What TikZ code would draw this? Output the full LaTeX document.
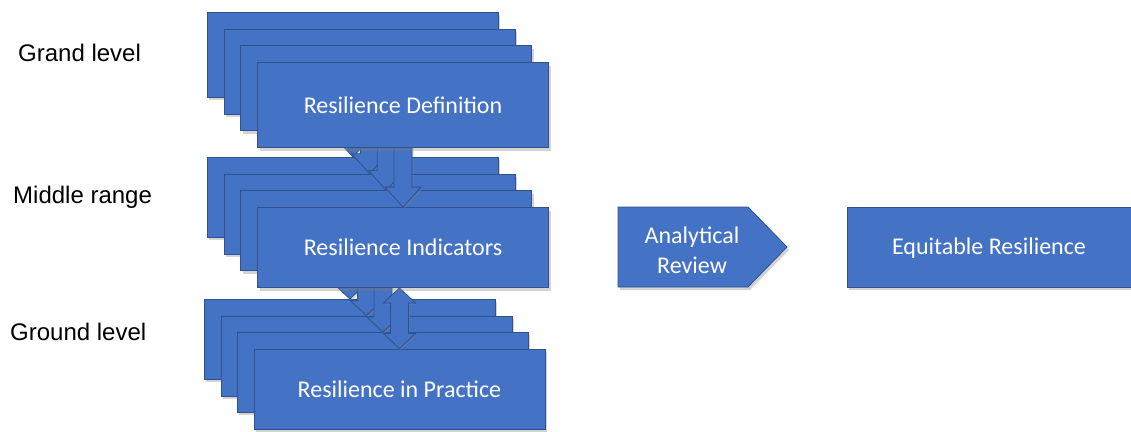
\documentclass[tikz,border=0pt]{standalone}
\usepackage{fontspec}
\setmainfont{Carlito}
\newfontfamily\arialfont{Liberation Sans}
\usetikzlibrary{shadows,calc}
\definecolor{boxblue}{HTML}{4472C4}
\definecolor{boxedge}{HTML}{2F528F}
\pgfdeclarelayer{bstack}
\pgfdeclarelayer{darrows}
\pgfdeclarelayer{mstack}
\pgfdeclarelayer{arrows}
\pgfdeclarelayer{gstack}
\pgfsetlayers{bstack,darrows,mstack,arrows,gstack,main}
\tikzset{
  bluefill/.style={draw=boxedge, line width=0.8pt, fill=boxblue,
    drop shadow={opacity=0.35, shadow xshift=2pt, shadow yshift=-3pt}},
  card/.style={bluefill, minimum width=291pt, minimum height=80pt,
    inner sep=0pt, anchor=north west},
  cardtext/.style={text=white, font=\fontsize{24}{30}\selectfont, align=center},
  levellabel/.style={font=\arialfont\fontsize{24}{29}\selectfont,
    anchor=base west, inner sep=0pt},
  blockarrow/.style={draw=boxedge, line width=0.8pt, fill=boxblue,
    drop shadow={opacity=0.3, shadow xshift=1.5pt, shadow yshift=-2pt}}
}
\begin{document}
\begin{tikzpicture}[x=1pt,y=-1pt]
\useasboundingbox (0,0) rectangle (1131,431);

% level labels
\node[levellabel] (lgrand) at (18,61) {Grand level};
\node[levellabel] (lmiddle) at (13,203) {Middle range};
\node[levellabel] (lground) at (10,340) {Ground level};

% stacks
\foreach \i in {1,...,4} {
  \pgfmathsetmacro\off{16.7*(\i-1)}
  \pgfmathsetmacro\offb{16.5*(\i-1)}
  \begin{pgfonlayer}{gstack}
    \node[card, minimum height=85pt] (g\i) at (207+\off,12+\off) {};
  \end{pgfonlayer}
  \begin{pgfonlayer}{mstack}
    \node[card] (m\i) at (207+\off,157+\off) {};
  \end{pgfonlayer}
  \begin{pgfonlayer}{bstack}
    \node[card] (b\i) at (204+\offb,299+\offb) {};
  \end{pgfonlayer}
}
\begin{pgfonlayer}{gstack}
  \node[cardtext] (tdef) at (g4.center) {Resilience Definition};
\end{pgfonlayer}
\begin{pgfonlayer}{mstack}
  \node[cardtext] (tind) at (m4.center) {Resilience Indicators};
\end{pgfonlayer}
\begin{pgfonlayer}{bstack}
  \node[cardtext] (tpra) at (b4.center) {Resilience in Practice};
\end{pgfonlayer}

% down arrows: grand level -> middle range
\begin{pgfonlayer}{arrows}
\foreach \i in {1,...,4} {
  \draw[blockarrow] let \p1=(g\i.south), \p2=(m\i.north) in
    (\x2,\y2) -- (\x2+18pt,\y2+20pt) -- (\x2+9pt,\y2+20pt) --
    (\x2+9pt,\y1+10pt) -- (\x2-9pt,\y1+10pt) -- (\x2-9pt,\y2+20pt) --
    (\x2-18pt,\y2+20pt) -- cycle;
}
\end{pgfonlayer}

% double arrows: middle range <-> ground level
\begin{pgfonlayer}{darrows}
\foreach \i in {1,...,4} {
  \draw[blockarrow] let \p1=(m\i.south), \p2=(b\i.north) in
    (\x2,\y2) -- (\x2+16pt,\y2+15pt) -- (\x2+9pt,\y2+15pt) --
    (\x2+9pt,\y1-15pt) -- (\x2+16pt,\y1-15pt) -- (\x2,\y1) --
    (\x2-16pt,\y1-15pt) -- (\x2-9pt,\y1-15pt) -- (\x2-9pt,\y2+15pt) --
    (\x2-16pt,\y2+15pt) -- cycle;
}
\end{pgfonlayer}

% analytical review pentagon
\draw[bluefill] (618,207) -- (748,207) -- (787,247) -- (748,287) -- (618,287) -- cycle;
\node[cardtext] (ar) at (692,250) {Analytical\\Review};

% equitable resilience (runs off the right edge)
\node[card, minimum width=300pt] (eq) at (847,207) {};
\node[cardtext] (teq) at (989,248) {Equitable Resilience};
\end{tikzpicture}
\end{document}
